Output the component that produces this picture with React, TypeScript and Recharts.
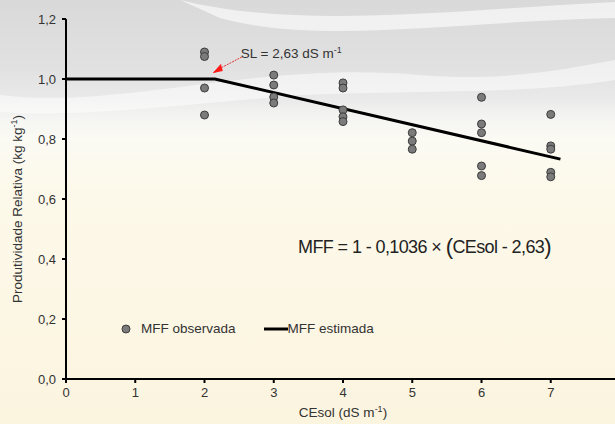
import React from 'react';
import {
  ComposedChart,
  Scatter,
  XAxis,
  YAxis,
  ReferenceDot,
} from 'recharts';

const observed = [
  { x: 2, y: 1.09 }, { x: 2, y: 1.075 }, { x: 2, y: 0.97 }, { x: 2, y: 0.88 },
  { x: 3, y: 1.013 }, { x: 3, y: 0.98 }, { x: 3, y: 0.94 }, { x: 3, y: 0.92 },
  { x: 4, y: 0.987 }, { x: 4, y: 0.97 }, { x: 4, y: 0.897 }, { x: 4, y: 0.874 }, { x: 4, y: 0.858 },
  { x: 5, y: 0.821 }, { x: 5, y: 0.793 }, { x: 5, y: 0.766 },
  { x: 6, y: 0.939 }, { x: 6, y: 0.85 }, { x: 6, y: 0.821 }, { x: 6, y: 0.71 }, { x: 6, y: 0.678 },
  { x: 7, y: 0.882 }, { x: 7, y: 0.777 }, { x: 7, y: 0.766 }, { x: 7, y: 0.689 }, { x: 7, y: 0.674 },
];

const estimated = [
  { x: 0, y: 1.0 },
  { x: 2.15, y: 1.0 },
  { x: 7.14, y: 0.733 },
];

const xTicks = [0, 1, 2, 3, 4, 5, 6, 7];
const yTicks = [0, 0.2, 0.4, 0.6, 0.8, 1.0, 1.2];

const FONT = '"Liberation Sans", Arial, sans-serif';
const TEXT = '#333';

const comma = (v: number) => v.toFixed(1).replace('.', ',');

const Dot = (props: any) => (
  <circle cx={props.cx} cy={props.cy} r={4} fill="#7b7b7b" stroke="#3c3c3c" strokeWidth={1} />
);

const SlNote = (props: any) => {
  const { cx, cy } = props;
  return (
    <g>
      <line x1={cx + 6} y1={cy - 4} x2={cx + 29} y2={cy - 16} stroke="#e03030" strokeWidth={1} strokeDasharray="2 1" />
      <polygon points={`${cx},${cy} ${cx + 9},${cy - 9} ${cx + 4},${cy - 1}`} fill="#ff1a1a" />
      <polygon points={`${cx},${cy} ${cx + 10},${cy - 2} ${cx + 8},${cy - 9}`} fill="#ff1a1a" />
      <text x={cx + 28} y={cy - 15} fontFamily={FONT} fontSize={13.5} fill={TEXT}>
        SL = 2,63 dS m<tspan fontSize={9} dy={-5}>-1</tspan>
      </text>
    </g>
  );
};

const Equation = (props: any) => {
  const { cx, cy } = props;
  return (
    <text x={cx} y={cy} fontFamily={FONT} fontSize={18} fill="#222" letterSpacing={-0.6}>
      MFF = 1 - 0,1036 × <tspan fontSize={22} dy={1}>(</tspan>
      <tspan dy={-1}>CEsol - 2,63</tspan>
      <tspan fontSize={22} dy={1}>)</tspan>
    </text>
  );
};

const YTitle = (props: any) => {
  const { viewBox } = props;
  const cx = viewBox.x + 22;
  const cy = viewBox.y + viewBox.height / 2 + 10;
  return (
    <text
      x={cx}
      y={cy}
      transform={`rotate(-90 ${cx} ${cy})`}
      textAnchor="middle"
      fontFamily={FONT}
      fontSize={13.5}
      fill={TEXT}
    >
      Produtividade Relativa (kg kg<tspan fontSize={9} dy={-5}>-1</tspan>
      <tspan dy={5}>)</tspan>
    </text>
  );
};

const XTitle = (props: any) => {
  const { viewBox } = props;
  const cx = 343;
  const cy = viewBox.y + 38;
  return (
    <text x={cx} y={cy} textAnchor="middle" fontFamily={FONT} fontSize={13.5} fill={TEXT}>
      CEsol (dS m<tspan fontSize={9} dy={-5}>-1</tspan>
      <tspan dy={5}>)</tspan>
    </text>
  );
};

const LegendBox = () => (
  <div
    style={{
      position: 'absolute',
      left: 120,
      top: 321,
      display: 'flex',
      alignItems: 'center',
      fontFamily: FONT,
      fontSize: 13.5,
      color: TEXT,
      whiteSpace: 'nowrap',
    }}
  >
    <svg width={12} height={12} style={{ marginRight: 9 }}>
      <circle cx={6} cy={6} r={4} fill="#7b7b7b" stroke="#3c3c3c" strokeWidth={1} />
    </svg>
    <span>MFF observada</span>
    <svg width={24} height={12} style={{ marginLeft: 28 }}>
      <line x1={0} y1={6} x2={24} y2={6} stroke="#000" strokeWidth={3} />
    </svg>
    <span>MFF estimada</span>
  </div>
);

const Backdrop = () => (
  <svg width={615} height={424} style={{ position: 'absolute', left: 0, top: 0 }}>
    <defs>
      <linearGradient id="bg" x1="0" y1="0" x2="0" y2="1">
        <stop offset="0%" stopColor="#d9d9d9" />
        <stop offset="16%" stopColor="#e1e1e1" />
        <stop offset="23%" stopColor="#e9e9e9" />
        <stop offset="28%" stopColor="#f5f5f3" />
        <stop offset="33%" stopColor="#fbfaf3" />
        <stop offset="45%" stopColor="#fdf9ea" />
        <stop offset="100%" stopColor="#fbf4df" />
      </linearGradient>
    </defs>
    <rect width={615} height={424} fill="url(#bg)" />
    <path d="M180 0 C 300 30, 450 10, 615 2 L 615 18 C 450 22, 320 45, 220 18 Z" fill="#ffffff" opacity={0.6} />
    <path d="M0 95 C 120 110, 260 60, 420 75 C 500 82, 560 70, 615 60 L 615 80 C 520 95, 420 90, 300 95 C 180 105, 80 118, 0 112 Z" fill="#ffffff" opacity={0.5} />
  </svg>
);

export default function App() {
  return (
    <div
      style={{
        position: 'fixed',
        left: 0,
        top: 0,
        width: 615,
        height: 424,
        overflow: 'hidden',
      }}
    >
      <Backdrop />
      <div style={{ position: 'absolute', left: 0, top: 0 }}>
        <ComposedChart
          width={625}
          height={424}
          margin={{ top: 19, right: 5, bottom: 15, left: 0 }}
          style={{ fontFamily: FONT }}
        >
          <XAxis
            type="number"
            dataKey="x"
            domain={[0, 8]}
            ticks={xTicks}
            allowDataOverflow
            height={30}
            axisLine={{ stroke: '#000', strokeWidth: 2 }}
            tickLine={{ stroke: '#000', strokeWidth: 2 }}
            tickSize={4}
            tickMargin={5}
            tick={{ fill: TEXT, fontSize: 13, fontFamily: FONT }}
            label={<XTitle />}
          />
          <YAxis
            type="number"
            dataKey="y"
            domain={[0, 1.2]}
            ticks={yTicks}
            width={66}
            axisLine={{ stroke: '#000', strokeWidth: 2 }}
            tickLine={{ stroke: '#000', strokeWidth: 2 }}
            tickSize={4}
            tickMargin={6}
            tickFormatter={comma}
            tick={{ fill: TEXT, fontSize: 13, fontFamily: FONT }}
            label={<YTitle />}
          />
          <Scatter
            name="MFF estimada"
            data={estimated}
            line={{ stroke: '#000', strokeWidth: 3 }}
            lineType="joint"
            shape={() => null}
            isAnimationActive={false}
          />
          <Scatter name="MFF observada" data={observed} shape={Dot} isAnimationActive={false} />
          <ReferenceDot x={2.12} y={1.02} shape={SlNote} />
          <ReferenceDot x={3.35} y={0.42} shape={Equation} />
        </ComposedChart>
      </div>
      <LegendBox />
    </div>
  );
}
